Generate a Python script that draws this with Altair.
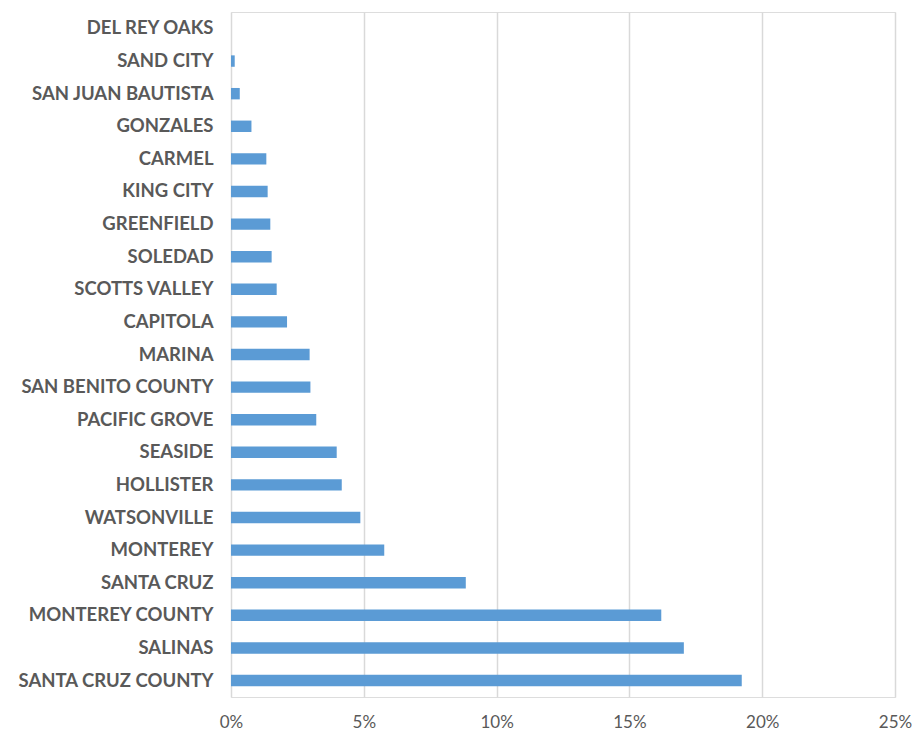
import altair as alt
import pandas as pd

places = [
    "DEL REY OAKS", "SAND CITY", "SAN JUAN BAUTISTA", "GONZALES", "CARMEL",
    "KING CITY", "GREENFIELD", "SOLEDAD", "SCOTTS VALLEY", "CAPITOLA",
    "MARINA", "SAN BENITO COUNTY", "PACIFIC GROVE", "SEASIDE", "HOLLISTER",
    "WATSONVILLE", "MONTEREY", "SANTA CRUZ", "MONTEREY COUNTY", "SALINAS",
    "SANTA CRUZ COUNTY",
]
shares = [
    0.0, 0.0014, 0.0033, 0.0077, 0.0133,
    0.0138, 0.0148, 0.0153, 0.0172, 0.0211,
    0.0296, 0.0299, 0.0321, 0.0398, 0.0417,
    0.0487, 0.0577, 0.0884, 0.1620, 0.1705,
    0.1923,
]
x_ticks = [0.0, 0.05, 0.10, 0.15, 0.20, 0.25]

df = pd.DataFrame({"place": places, "share": shares})

chart = (
    alt.Chart(df)
    .mark_bar(color="#5b9bd5")
    .encode(
        x=alt.X(
            "share:Q",
            scale=alt.Scale(domain=[0, 0.25], nice=False),
            axis=alt.Axis(
                values=x_ticks,
                format=".0%",
                title=None,
                domain=False,
                ticks=False,
                grid=True,
                gridColor="#d9d9d9",
                gridWidth=1.5,
                labelColor="#595959",
                labelFont="Lato",
                labelFontSize=17,
                labelPadding=17,
                labelFlush=False,
            ),
        ),
        y=alt.Y(
            "place:N",
            sort=places,
            scale=alt.Scale(paddingInner=0.65, paddingOuter=0.33),
            axis=alt.Axis(
                title=None,
                domain=False,
                ticks=False,
                grid=False,
                labelColor="#595959",
                labelFont="Lato",
                labelFontWeight="bold",
                labelFontSize=18.5,
                labelPadding=18,
                labelLimit=300,
            ),
        ),
    )
    .properties(
        width=664,
        height=685,
        autosize=alt.AutoSizeParams(type="none"),
        padding={"left": 231, "top": 12, "right": 22, "bottom": 37},
    )
    .configure_view(stroke=None)
    .configure(background="white")
)

chart.save("out.html", embed_options={"renderer": "svg", "actions": False})
